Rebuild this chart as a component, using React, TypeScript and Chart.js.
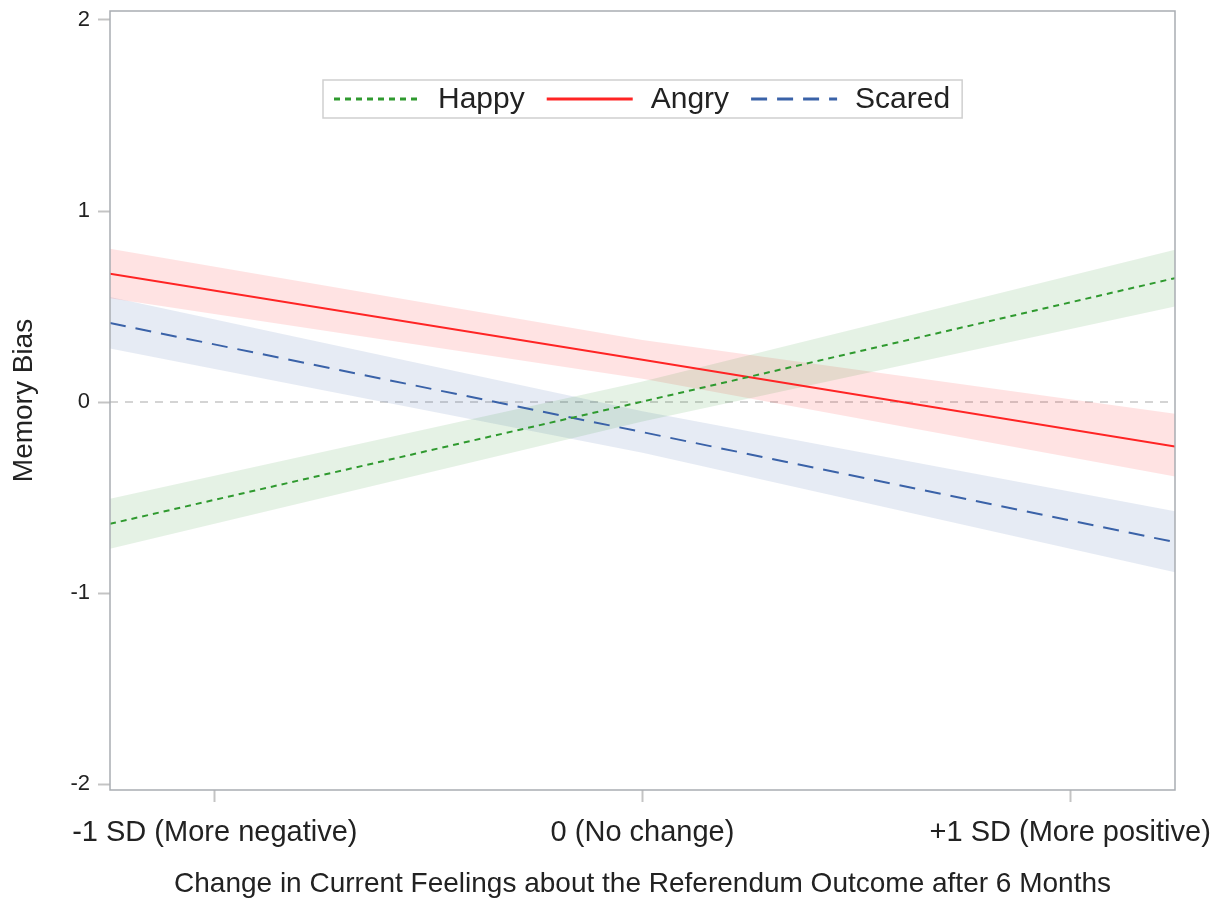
import React, { useEffect, useRef } from "react";
import { Chart, registerables } from "chart.js";

Chart.register(...registerables);

const FONT = "'Liberation Sans', Arial, sans-serif";

const X_TICKS = [-1, 0, 1];
const X_TICK_LABELS = ["-1 SD (More negative)", "0 (No change)", "+1 SD (More positive)"];
const Y_TICKS = [-2, -1, 0, 1, 2];
const X_MIN = -1.245;
const X_MAX = 1.245;
const Y_MIN = -2.03;
const Y_MAX = 2.047;

const X_POINTS = [-1.245, 0, 1.245];

const HAPPY = [-0.637, 0.003, 0.649];
const HAPPY_LOWER = [-0.768, -0.102, 0.501];
const HAPPY_UPPER = [-0.506, 0.108, 0.798];

const ANGRY = [0.672, 0.222, -0.232];
const ANGRY_LOWER = [0.543, 0.122, -0.389];
const ANGRY_UPPER = [0.803, 0.325, -0.061];

const SCARED = [0.414, -0.157, -0.733];
const SCARED_LOWER = [0.28, -0.265, -0.89];
const SCARED_UPPER = [0.55, -0.048, -0.571];

const ZERO_LINE = [0, 0, 0];

const SERIES_LABELS = ["Happy", "Angry", "Scared"];

const pts = (arr: number[]) => X_POINTS.map((x, i) => ({ x, y: arr[i] }));

const bandUpper = (data: number[], color: string) => ({
  data: pts(data),
  borderWidth: 0,
  pointRadius: 0,
  backgroundColor: color,
  fill: "+1",
  order: 10,
  showInLegend: false,
});
const bandLower = (data: number[]) => ({
  data: pts(data),
  borderWidth: 0,
  pointRadius: 0,
  fill: false,
  order: 10,
  showInLegend: false,
});

const framePlugin = {
  id: "frameAndLegend",
  afterDatasetsDraw(chart: any) {
    const ctx = chart.ctx;
    const a = chart.chartArea;
    ctx.save();
    // plot frame
    ctx.strokeStyle = "#a9adb2";
    ctx.lineWidth = 1.5;
    ctx.setLineDash([]);
    ctx.strokeRect(a.left, a.top, a.right - a.left, a.bottom - a.top);

    // legend
    const items = chart.data.datasets.filter((d: any) => d.showInLegend);
    ctx.font = `30px ${FONT}`;
    const sample = 86, gapText = 18, gapItem = 22, padL = 11, padR = 12, h = 38;
    let total = padL + padR;
    items.forEach((d: any, i: number) => {
      total += sample + gapText + ctx.measureText(d.label).width + (i ? gapItem : 0);
    });
    const x0 = Math.round((a.left + a.right) / 2 - total / 2);
    const y0 = a.top + 69;
    ctx.fillStyle = "#ffffff";
    ctx.fillRect(x0, y0, total, h);
    ctx.strokeStyle = "#cfcfcf";
    ctx.lineWidth = 1.5;
    ctx.strokeRect(x0, y0, total, h);
    let x = x0 + padL;
    const cy = y0 + h / 2;
    items.forEach((d: any, i: number) => {
      if (i) x += gapItem;
      ctx.beginPath();
      ctx.setLineDash(d.borderDash || []);
      ctx.strokeStyle = d.borderColor;
      ctx.lineWidth = 3;
      ctx.moveTo(x, cy);
      ctx.lineTo(x + sample, cy);
      ctx.stroke();
      ctx.setLineDash([]);
      x += sample + gapText;
      ctx.fillStyle = "#222";
      ctx.textBaseline = "middle";
      ctx.textAlign = "left";
      ctx.fillText(d.label, x, cy + 1);
      x += ctx.measureText(d.label).width;
    });
    ctx.restore();
  },
};

export default function App() {
  const ref = useRef<HTMLCanvasElement>(null);

  useEffect(() => {
    if (!ref.current) return;
    const chart = new Chart(ref.current, {
      type: "line",
      data: {
        datasets: [
          {
            label: "zero",
            data: pts(ZERO_LINE),
            borderColor: "#d4d4d4",
            borderWidth: 2,
            borderDash: [8, 7],
            pointRadius: 0,
            fill: false,
            order: 20,
            showInLegend: false,
          } as any,
          bandUpper(HAPPY_UPPER, "rgba(0,128,0,0.10)") as any,
          bandLower(HAPPY_LOWER) as any,
          bandUpper(ANGRY_UPPER, "rgba(255,0,0,0.11)") as any,
          bandLower(ANGRY_LOWER) as any,
          bandUpper(SCARED_UPPER, "rgba(60,100,170,0.13)") as any,
          bandLower(SCARED_LOWER) as any,
          {
            label: SERIES_LABELS[0],
            data: pts(HAPPY),
            borderColor: "#2f9a2f",
            borderWidth: 2,
            borderDash: [6, 5],
            pointRadius: 0,
            fill: false,
            order: 1,
            showInLegend: true,
          } as any,
          {
            label: SERIES_LABELS[1],
            data: pts(ANGRY),
            borderColor: "#ff2424",
            borderWidth: 2,
            pointRadius: 0,
            fill: false,
            order: 1,
            showInLegend: true,
          } as any,
          {
            label: SERIES_LABELS[2],
            data: pts(SCARED),
            borderColor: "#3a62a8",
            borderWidth: 2,
            borderDash: [16, 10],
            pointRadius: 0,
            fill: false,
            order: 1,
            showInLegend: true,
          } as any,
        ],
      },
      options: {
        animation: false,
        responsive: true,
        maintainAspectRatio: false,
        layout: { padding: { top: 11, right: 46, left: 0, bottom: 0 } },
        plugins: {
          legend: { display: false },
          tooltip: { enabled: false },
          title: { display: false },
        },
        scales: {
          x: {
            type: "linear",
            min: X_MIN,
            max: X_MAX,
            afterBuildTicks: (s: any) => {
              s.ticks = X_TICKS.map((v) => ({ value: v }));
            },
            afterFit: (s: any) => {
              s.height = 108;
              s.paddingLeft = 0;
              s.paddingRight = 0;
            },
            ticks: {
              callback: (_v: any, i: number) => X_TICK_LABELS[i],
              font: { size: 29, family: FONT },
              color: "#222",
              padding: 14,
              maxRotation: 0,
              autoSkip: false,
            },
            grid: {
              display: true,
              drawOnChartArea: false,
              drawTicks: true,
              tickLength: 12,
              tickColor: "#c4c4c4",
              tickWidth: 2,
            },
            border: { display: false },
            title: {
              display: true,
              text: "Change in Current Feelings about the Referendum Outcome after 6 Months",
              font: { size: 28, family: FONT },
              color: "#222",
              padding: { top: 0, bottom: -3 },
            },
          },
          y: {
            type: "linear",
            min: Y_MIN,
            max: Y_MAX,
            afterBuildTicks: (s: any) => {
              s.ticks = Y_TICKS.map((v) => ({ value: v }));
            },
            afterFit: (s: any) => {
              s.width = 110;
              s.paddingTop = 0;
              s.paddingBottom = 0;
            },
            ticks: {
              font: { size: 22, family: FONT },
              color: "#222",
              padding: 8,
            },
            grid: {
              display: true,
              drawOnChartArea: false,
              drawTicks: true,
              tickLength: 12,
              tickColor: "#c4c4c4",
              tickWidth: 2,
            },
            border: { display: false },
            title: {
              display: true,
              text: "Memory Bias",
              font: { size: 28, family: FONT },
              color: "#222",
              padding: { top: 7, bottom: 0 },
            },
          },
        },
      } as any,
      plugins: [framePlugin],
    });
    return () => chart.destroy();
  }, []);

  return (
    <div style={{ position: "fixed", left: 0, top: 0, width: 1221, height: 898, background: "#fff" }}>
      <canvas ref={ref} />
    </div>
  );
}
